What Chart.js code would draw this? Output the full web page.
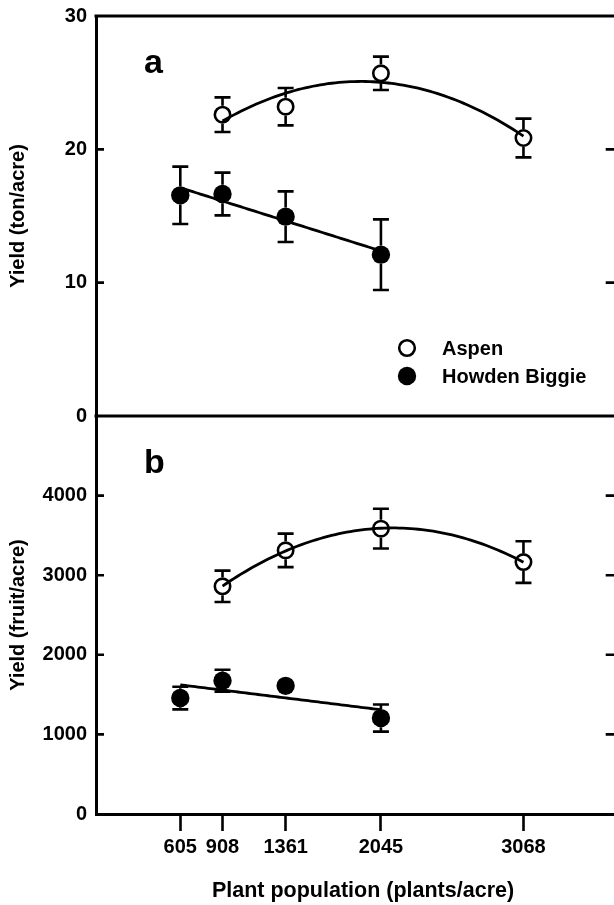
<!DOCTYPE html>
<html><head><meta charset="utf-8">
<script src="https://cdn.jsdelivr.net/npm/chart.js@4.4.1/dist/chart.umd.min.js"></script>
<style>
html,body{margin:0;padding:0;background:#fff;overflow:hidden;width:614px;height:905px;}
#wrap{position:relative;width:614px;height:905px;overflow:hidden;background:#fff;}
canvas{position:absolute;left:0;}
#ca{top:0;}
#cb{top:404px;}
</style></head><body>
<div id="wrap">
<canvas id="ca" width="626" height="432"></canvas>
<canvas id="cb" width="626" height="501"></canvas>
</div>
<script>
// ---- data ----
const seriesNames = ['Aspen', 'Howden Biggie'];
const aspenX  = [908, 1361, 2045, 3068];
const howdenX = [605, 908, 1361, 2045];
const aspenTons     = [22.6, 23.2, 25.7, 20.85];
const aspenTonsErr  = [1.3, 1.4, 1.25, 1.45];
const howdenTons    = [16.55, 16.65, 14.95, 12.1];
const howdenTonsErr = [2.15, 1.6, 1.9, 2.65];
const aspenFruit     = [2860, 3312, 3585, 3165];
const aspenFruitErr  = [197, 210, 250, 262];
const howdenFruit    = [1457, 1675, 1610, 1205];
const howdenFruitErr = [142, 137, 50, 170];
const xTickValues = [605, 908, 1361, 2045, 3068];
const xTickLabels = ['605', '908', '1361', '2045', '3068'];
const yTicksTons  = [0, 10, 20, 30];
const yTicksFruit = [0, 1000, 2000, 3000, 4000];
const panelLetters = ['a', 'b'];
const yTitles = ['Yield (ton/acre)', 'Yield (fruit/acre)'];
const xTitle = 'Plant population (plants/acre)';

const FONT = "'Liberation Sans', Arial, Helvetica, sans-serif";

// least-squares polynomial trend line of the data (as in the original figure)
function polyFit(xs, ys, deg) {
  const n = deg + 1;
  const A = Array.from({length: n}, () => new Array(n + 1).fill(0));
  for (let k = 0; k < xs.length; k++) {
    const t = xs[k] / 1000;
    for (let i = 0; i < n; i++) {
      for (let j = 0; j < n; j++) A[i][j] += Math.pow(t, i + j);
      A[i][n] += ys[k] * Math.pow(t, i);
    }
  }
  for (let i = 0; i < n; i++) {
    let p = i;
    for (let r = i + 1; r < n; r++) if (Math.abs(A[r][i]) > Math.abs(A[p][i])) p = r;
    [A[i], A[p]] = [A[p], A[i]];
    for (let r = 0; r < n; r++) {
      if (r === i) continue;
      const f = A[r][i] / A[i][i];
      for (let c = i; c <= n; c++) A[r][c] -= f * A[i][c];
    }
  }
  return A.map((row, i) => row[n] / row[i]);
}
function trend(xs, ys, deg) {
  const c = polyFit(xs, ys, deg);
  const pts = [];
  const x0 = xs[0], x1 = xs[xs.length - 1], N = 80;
  for (let i = 0; i <= N; i++) {
    const x = x0 + (x1 - x0) * i / N, t = x / 1000;
    let y = 0;
    c.forEach((ci, k) => { y += ci * Math.pow(t, k); });
    pts.push({x, y});
  }
  return pts;
}
const pts = (xs, ys) => xs.map((x, i) => ({x, y: ys[i]}));

const errorBars = {
  id: 'errorBars',
  afterDatasetsDraw(chart) {
    const {ctx, scales: {x, y}} = chart;
    ctx.save();
    ctx.strokeStyle = '#000';
    ctx.lineWidth = 2.6;
    chart.data.datasets.forEach(ds => {
      if (!ds.errors) return;
      const r = ds.markerR;
      ds.data.forEach((p, i) => {
        const e = ds.errors[i];
        const px = x.getPixelForValue(p.x);
        const py = y.getPixelForValue(p.y);
        const pt = y.getPixelForValue(p.y + e);
        const pb = y.getPixelForValue(p.y - e);
        ctx.beginPath();
        if (py - pt > r) {
          ctx.moveTo(px, pt); ctx.lineTo(px, py - r);
          ctx.moveTo(px - 8, pt); ctx.lineTo(px + 8, pt);
        }
        if (pb - py > r) {
          ctx.moveTo(px, py + r); ctx.lineTo(px, pb);
          ctx.moveTo(px - 8, pb); ctx.lineTo(px + 8, pb);
        }
        ctx.stroke();
      });
    });
    ctx.restore();
  }
};

const decor = {
  id: 'decor',
  afterDraw(chart, args, o) {
    const {ctx, chartArea: a, scales: {y}} = chart;
    ctx.save();
    ctx.strokeStyle = '#000';
    ctx.fillStyle = '#000';
    ctx.lineWidth = 3;
    ctx.beginPath();
    if (o.frameTop) { ctx.moveTo(a.left - 1.5, a.top); ctx.lineTo(a.right, a.top); }
    if (o.frameBottom) { ctx.moveTo(a.left - 1.5, a.bottom); ctx.lineTo(a.right, a.bottom); }
    ctx.moveTo(a.right, a.top); ctx.lineTo(a.right, a.bottom);
    ctx.stroke();
    ctx.lineWidth = 2.6;
    ctx.beginPath();
    y.ticks.forEach(t => {
      if (t.value <= y.min || t.value >= y.max) return;
      const p = y.getPixelForValue(t.value);
      ctx.moveTo(a.left, p); ctx.lineTo(a.left + 8, p);
      ctx.moveTo(a.right - 10, p); ctx.lineTo(a.right, p);
    });
    ctx.stroke();
    // panel letter
    ctx.font = `bold 34px ${FONT}`;
    ctx.textAlign = 'left';
    ctx.textBaseline = 'alphabetic';
    ctx.fillText(o.letter, a.left + 48, a.top + 56.5);
    if (o.legend) {
      ctx.font = `bold 20px ${FONT}`;
      ctx.textBaseline = 'middle';
      const cx = a.left + 311;
      ctx.lineWidth = 2.6;
      ctx.beginPath(); ctx.arc(cx, a.top + 332, 7.8, 0, Math.PI * 2); ctx.stroke();
      ctx.beginPath(); ctx.arc(cx, a.top + 360, 9.2, 0, Math.PI * 2); ctx.fill();
      ctx.fillText(seriesNames[0], a.left + 346, a.top + 333);
      ctx.fillText(seriesNames[1], a.left + 346, a.top + 361);
    }
    if (o.xTitle) {
      ctx.font = `bold 21.5px ${FONT}`;
      ctx.textAlign = 'center';
      ctx.textBaseline = 'middle';
      ctx.fillText(o.xTitle, a.left + 267, a.bottom + 77);
    }
    ctx.restore();
  }
};

function makeChart(id, c) {
  return new Chart(document.getElementById(id), {
    type: 'scatter',
    data: {
      datasets: [
        {label: seriesNames[1], data: pts(howdenX, c.howden), errors: c.howdenErr, markerR: 9.2,
         pointRadius: 9.2, pointHoverRadius: 9.2, pointBackgroundColor: '#000', pointBorderWidth: 0, pointBorderColor: '#000'},
        {label: seriesNames[0], data: pts(aspenX, c.aspen), errors: c.aspenErr, markerR: 9,
         pointRadius: 7.7, pointHoverRadius: 7.7, pointBackgroundColor: 'rgba(0,0,0,0)', pointBorderWidth: 2.6, pointBorderColor: '#000'},
        {label: 'fitH', data: trend(howdenX, c.howden, 1), showLine: true, pointRadius: 0, borderColor: '#000', borderWidth: 2.8, tension: 0},
        {label: 'fitA', data: trend(aspenX, c.aspen, 2), showLine: true, pointRadius: 0, borderColor: '#000', borderWidth: 2.8, tension: 0}
      ]
    },
    options: {
      responsive: false,
      animation: false,
      devicePixelRatio: 1,
      layout: {padding: c.padding},
      plugins: {
        legend: {display: false},
        tooltip: {enabled: false},
        decor: {letter: c.letter, legend: c.legend, frameTop: c.frameTop, frameBottom: c.frameBottom, xTitle: c.xTitle}
      },
      scales: {
        x: {
          type: 'linear', min: 0, max: 3730, display: c.showX,
          afterBuildTicks: s => { s.ticks = xTickValues.map(v => ({value: v})); },
          afterFit: s => { if (c.showX) s.height = 91; s.paddingLeft = 0; s.paddingRight = 0; },
          ticks: {autoSkip: false, maxRotation: 0, minRotation: 0, color: '#000', padding: 4,
                  font: {family: FONT, size: 20, weight: 'bold'},
                  callback: (v, i) => xTickLabels[i]},
          grid: {drawOnChartArea: false, drawTicks: true, tickLength: 17, tickWidth: 2.6, tickColor: '#000'},
          border: {display: true, color: '#000', width: 3}
        },
        y: {
          type: 'linear', min: c.yMin, max: c.yMax,
          afterBuildTicks: s => { s.ticks = c.yTicks.map(v => ({value: v})); },
          afterFit: s => { s.width = 96; s.paddingTop = 0; s.paddingBottom = 0; },
          ticks: {color: '#000', padding: 9, font: {family: FONT, size: 20, weight: 'bold'},
                  callback: v => String(v)},
          grid: {drawOnChartArea: false, drawTicks: false},
          border: {display: true, color: '#000', width: 3},
          title: {display: true, text: c.yTitle, color: '#000',
                  font: {family: FONT, size: 20, weight: 'bold'}, padding: {top: 6, bottom: 0}}
        }
      }
    },
    plugins: [errorBars, decor]
  });
}

makeChart('ca', {
  aspen: aspenTons, aspenErr: aspenTonsErr, howden: howdenTons, howdenErr: howdenTonsErr,
  yMin: 0, yMax: 30, yTicks: yTicksTons, yTitle: yTitles[0], letter: panelLetters[0],
  legend: true, frameTop: true, frameBottom: true, showX: false,
  padding: {left: 0, right: 9, top: 16, bottom: 16}
});
makeChart('cb', {
  aspen: aspenFruit, aspenErr: aspenFruitErr, howden: howdenFruit, howdenErr: howdenFruitErr,
  yMin: 0, yMax: 5000, yTicks: yTicksFruit, yTitle: yTitles[1], letter: panelLetters[1],
  legend: false, frameTop: false, frameBottom: false, showX: true, xTitle: xTitle,
  padding: {left: 0, right: 9, top: 12, bottom: 0}
});
</script>
</body></html>
